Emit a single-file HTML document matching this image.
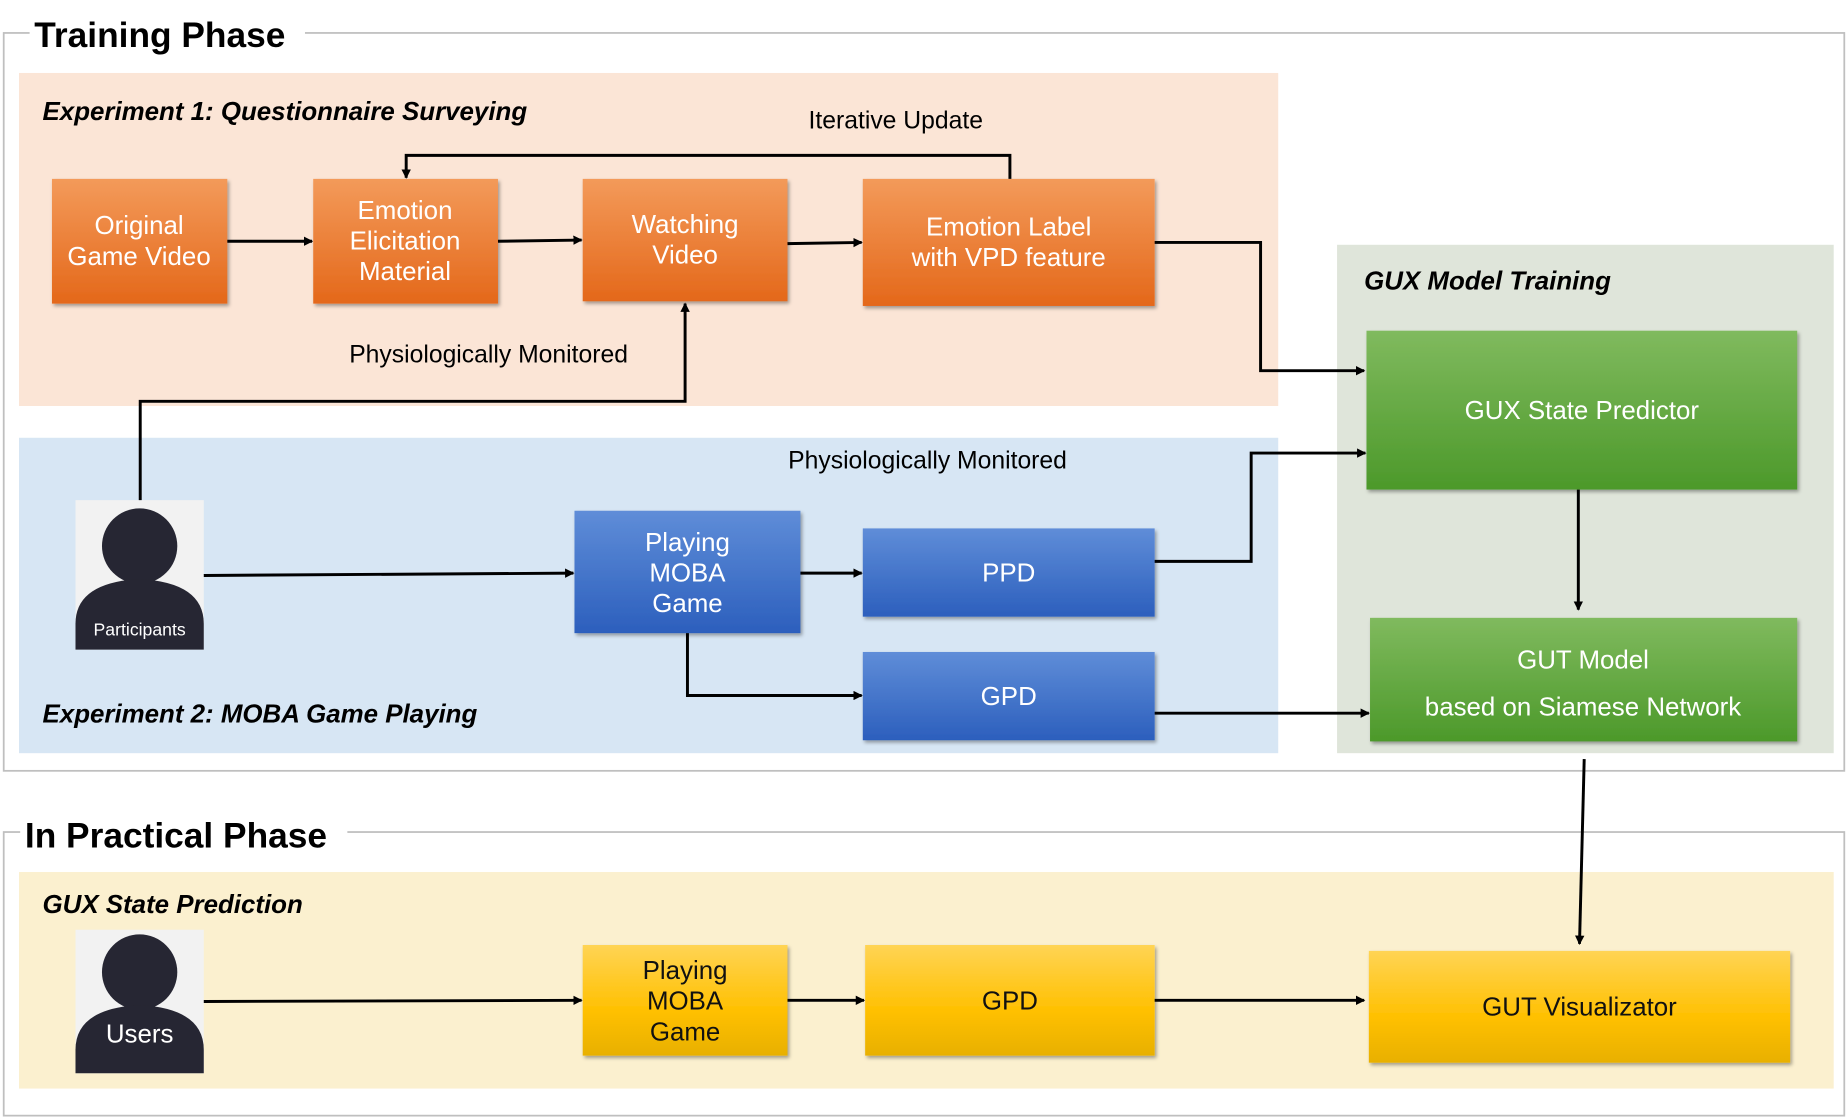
<!DOCTYPE html>
<html><head><meta charset="utf-8"><style>html,body{margin:0;padding:0;background:#fff}svg{display:block}</style></head><body>
<svg width="1848" height="1118" viewBox="0 0 1568 950" xmlns="http://www.w3.org/2000/svg" font-family="Liberation Sans, DejaVu Sans, sans-serif">
<defs>
<linearGradient id="og" x1="0" y1="0" x2="0" y2="1"><stop offset="0" stop-color="#f39a5a"/><stop offset="1" stop-color="#e4681a"/></linearGradient>
<linearGradient id="bg" x1="0" y1="0" x2="0" y2="1"><stop offset="0" stop-color="#5f8dd8"/><stop offset="1" stop-color="#2c5fbd"/></linearGradient>
<linearGradient id="gg" x1="0" y1="0" x2="0" y2="1"><stop offset="0" stop-color="#80ba5e"/><stop offset="1" stop-color="#4c992a"/></linearGradient>
<linearGradient id="yg" x1="0" y1="0" x2="0" y2="1"><stop offset="0" stop-color="#ffd454"/><stop offset="0.6" stop-color="#ffc000"/><stop offset="1" stop-color="#e8b000"/></linearGradient>
<marker id="a" markerWidth="8" markerHeight="8" refX="7" refY="4" orient="auto" markerUnits="userSpaceOnUse"><path d="M0,0 L8,4 L0,8 z" fill="#000"/></marker>
<filter id="s" x="-5%" y="-5%" width="110%" height="115%"><feDropShadow dx="1.5" dy="2" stdDeviation="1.5" flood-opacity="0.35"/></filter>
</defs>
<rect x="2" y="28" width="1564" height="627" fill="none" stroke="#bfbfbf" stroke-width="1.5"/>
<rect x="2" y="707" width="1564" height="241" fill="none" stroke="#bfbfbf" stroke-width="1.5"/>
<rect x="24" y="10" width="234" height="36" fill="#fff"/>
<rect x="16" y="690" width="278" height="36" fill="#fff"/>
<text x="28" y="40" font-size="30" font-weight="bold">Training Phase</text>
<text x="20" y="720" font-size="30" font-weight="bold">In Practical Phase</text>
<rect x="15" y="62" width="1070" height="283" fill="#fbe5d6"/>
<rect x="15" y="372" width="1070" height="268" fill="#d7e6f4"/>
<rect x="1135" y="208" width="422" height="432" fill="#dfe5da"/>
<rect x="15" y="741" width="1542" height="184" fill="#fbf0cf"/>
<g font-style="italic" font-weight="bold" font-size="22">
<text x="35" y="102">Experiment 1: Questionnaire Surveying</text>
<text x="35" y="614">Experiment 2: MOBA Game Playing</text>
<text x="1158" y="246">GUX Model Training</text>
<text x="35" y="776">GUX State Prediction</text>
</g>
<g font-size="21" text-anchor="middle">
<text x="760" y="109">Iterative Update</text>
<text x="414" y="308">Physiologically Monitored</text>
<text x="787" y="398">Physiologically Monitored</text>
</g>
<g filter="url(#s)">
<rect x="43" y="152" width="149" height="106" fill="url(#og)"/>
<rect x="265" y="152" width="157" height="106" fill="url(#og)"/>
<rect x="494" y="152" width="174" height="104" fill="url(#og)"/>
<rect x="732" y="152" width="248" height="108" fill="url(#og)"/>
<rect x="487" y="434" width="192" height="104" fill="url(#bg)"/>
<rect x="732" y="449" width="248" height="75" fill="url(#bg)"/>
<rect x="732" y="554" width="248" height="75" fill="url(#bg)"/>
<rect x="1160" y="281" width="366" height="135" fill="url(#gg)"/>
<rect x="1163" y="525" width="363" height="105" fill="url(#gg)"/>
<rect x="494" y="803" width="174" height="94" fill="url(#yg)"/>
<rect x="734" y="803" width="246" height="94" fill="url(#yg)"/>
<rect x="1162" y="808" width="358" height="95" fill="url(#yg)"/>
</g>
<g font-size="22" fill="#fff" text-anchor="middle">
<text x="117" y="199">Original</text><text x="117" y="225">Game Video</text>
<text x="343" y="186">Emotion</text><text x="343" y="212">Elicitation</text><text x="343" y="238">Material</text>
<text x="581" y="198">Watching</text><text x="581" y="224">Video</text>
<text x="856" y="200">Emotion Label</text><text x="856" y="226">with VPD feature</text>
<text x="583" y="468">Playing</text><text x="583" y="494">MOBA</text><text x="583" y="520">Game</text>
<text x="856" y="494">PPD</text>
<text x="856" y="599">GPD</text>
<text x="1343" y="356">GUX State Predictor</text>
<text x="1344" y="568">GUT Model</text><text x="1344" y="608">based on Siamese Network</text>
</g>
<g font-size="22" fill="#111" text-anchor="middle">
<text x="581" y="832">Playing</text><text x="581" y="858">MOBA</text><text x="581" y="884">Game</text>
<text x="857" y="858">GPD</text>
<text x="1341" y="863">GUT Visualizator</text>
</g>
<g>
<rect x="63" y="425" width="109" height="127" fill="#f2f2f2"/>
<circle cx="117.5" cy="464" r="32" fill="#262633"/>
<path d="M63,552 L63,530 Q63,495 117.5,492 Q172,495 172,530 L172,552 Z" fill="#262633"/>
<text x="117.5" y="540" font-size="15" fill="#fff" text-anchor="middle">Participants</text>
<rect x="63" y="790" width="109" height="122" fill="#f2f2f2"/>
<circle cx="117.5" cy="826" r="32" fill="#262633"/>
<path d="M63,912 L63,892 Q63,857 117.5,854 Q172,857 172,892 L172,912 Z" fill="#262633"/>
<text x="117.5" y="886" font-size="22" fill="#fff" text-anchor="middle">Users</text>
</g>
<g stroke="#000" stroke-width="2.5" fill="none" marker-end="url(#a)">
<line x1="192" y1="205" x2="264" y2="205"/>
<line x1="422" y1="205" x2="493" y2="204"/>
<line x1="668" y1="207" x2="731" y2="206"/>
<polyline points="857,152 857,132 344,132 344,151"/>
<polyline points="118,425 118,341 581,341 581,258"/>
<polyline points="980,206 1070,206 1070,315 1158,315"/>
<line x1="172" y1="489" x2="486" y2="487"/>
<line x1="679" y1="487" x2="731" y2="487"/>
<polyline points="583,538 583,591 731,591"/>
<polyline points="980,477 1062,477 1062,385 1159,385"/>
<line x1="980" y1="606" x2="1162" y2="606"/>
<line x1="1340" y1="416" x2="1340" y2="518"/>
<line x1="1345" y1="645" x2="1341" y2="802"/>
<line x1="172" y1="851" x2="493" y2="850"/>
<line x1="668" y1="850" x2="733" y2="850"/>
<line x1="980" y1="850" x2="1158" y2="850"/>
</g>
</svg>
</body></html>
